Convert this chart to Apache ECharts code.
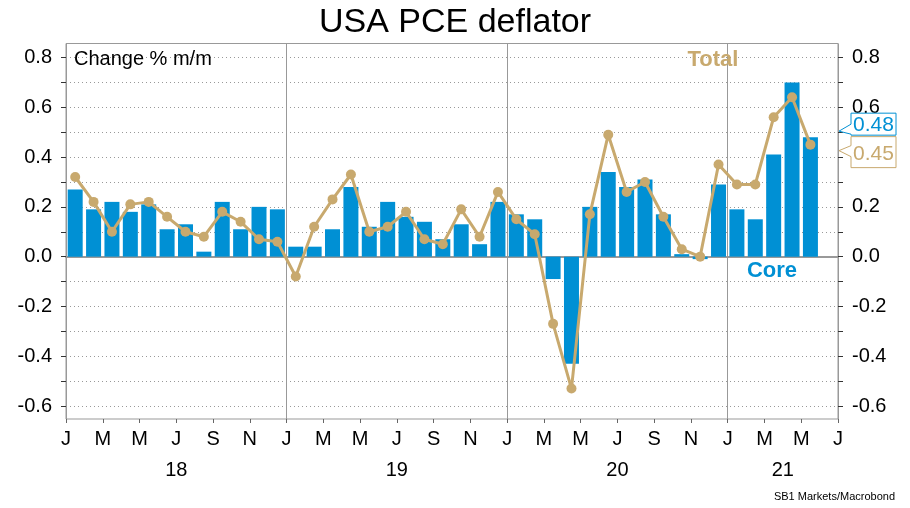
<!DOCTYPE html>
<html>
<head>
<meta charset="utf-8">
<script src="https://cdn.jsdelivr.net/npm/echarts@6/dist/echarts.min.js"></script>
<style>
  html, body { margin: 0; padding: 0; background: #fff; }
  #chart { width: 910px; height: 508px; }
</style>
</head>
<body>
<div id="chart"></div>
<script>
// months Jan 2018 .. Jun 2021 (last slot empty)
const months = [
  '2018-01','2018-02','2018-03','2018-04','2018-05','2018-06','2018-07','2018-08','2018-09','2018-10','2018-11','2018-12',
  '2019-01','2019-02','2019-03','2019-04','2019-05','2019-06','2019-07','2019-08','2019-09','2019-10','2019-11','2019-12',
  '2020-01','2020-02','2020-03','2020-04','2020-05','2020-06','2020-07','2020-08','2020-09','2020-10','2020-11','2020-12',
  '2021-01','2021-02','2021-03','2021-04','2021-05','2021-06'
]
// core PCE, % m/m (bars)
const core = [
  0.27, 0.19, 0.22, 0.18, 0.21, 0.11, 0.13, 0.02, 0.22, 0.11, 0.20, 0.19,
  0.04, 0.04, 0.11, 0.28, 0.12, 0.22, 0.16, 0.14, 0.07, 0.13, 0.05, 0.22,
  0.17, 0.15, -0.09, -0.43, 0.20, 0.34, 0.28, 0.31, 0.17, 0.01, -0.01, 0.29,
  0.19, 0.15, 0.41, 0.70, 0.48
]
// total PCE, % m/m (line)
const total = [
  0.32, 0.22, 0.10, 0.21, 0.22, 0.16, 0.10, 0.08, 0.18, 0.14, 0.07, 0.06,
  -0.08, 0.12, 0.23, 0.33, 0.10, 0.12, 0.18, 0.07, 0.05, 0.19, 0.08, 0.26,
  0.15, 0.09, -0.27, -0.53, 0.17, 0.49, 0.26, 0.30, 0.16, 0.03, 0.00, 0.37,
  0.29, 0.29, 0.56, 0.64, 0.45
]
const monthLetters = ['J', 'M', 'M', 'J', 'S', 'N'] // every 2nd month
const yearLabels = ['18', '19', '20', '21']

const BLUE = '#0090D4'
const GOLD = '#C8A96E'
const FONT = 'Liberation Sans, Arial, sans-serif'

const chart = echarts.init(document.getElementById('chart'))

const yCommon = {
  type: 'value',
  gridIndex: 0,
  min: -0.6,
  max: 0.8,
  interval: 0.1,
  axisLine: { show: false },
  axisTick: { show: true, inside: false, length: 5, lineStyle: { color: '#333' } },
  axisLabel: {
    margin: 14,
    color: '#000',
    fontSize: 20,
    fontFamily: FONT,
    formatter: function(v) {
      return Math.round(v * 10) % 2 === 0 ? v.toFixed(1) : ''
    }
  }
}

chart.setOption({
  animation: false,
  title: {
    text: 'USA PCE deflator',
    left: 'center',
    top: 1,
    textStyle: { fontSize: 34, fontWeight: 'normal', color: '#000', fontFamily: FONT }
  },
  grid: [
    { left: 66, right: 72, top: 57.5, bottom: 102 }, // data area, -0.6 .. 0.8
    { left: 66, right: 72, top: 43.5, bottom: 89, show: true, borderColor: '#999', borderWidth: 1, backgroundColor: 'transparent' } // frame
  ],
  xAxis: [
    {
      type: 'category',
      gridIndex: 0,
      data: months,
      boundaryGap: true,
      axisLine: { show: true, onZero: true, lineStyle: { color: '#999', width: 2 } },
      axisTick: { show: false },
      axisLabel: { show: false },
      splitLine: { show: false }
    },
    { // month letters
      type: 'value',
      gridIndex: 1,
      min: 0,
      max: months.length,
      interval: 2,
      position: 'bottom',
      offset: 0,
      axisLine: { show: false },
      axisTick: { show: true, length: 4, lineStyle: { color: '#666' } },
      splitLine: { show: false },
      axisLabel: {
        margin: 10,
        color: '#000',
        fontSize: 20,
        fontFamily: FONT,
        formatter: function(v) { return monthLetters[(v % 12) / 2] }
      }
    },
    { // year separators
      type: 'value',
      gridIndex: 1,
      min: 0,
      max: months.length,
      interval: 12,
      position: 'bottom',
      offset: 0,
      axisLine: { show: false },
      axisTick: { show: false },
      axisLabel: { show: false },
      splitLine: { show: true, lineStyle: { color: '#999', width: 1 } }
    },
    { // year labels, centred on each year
      type: 'value',
      gridIndex: 1,
      min: 0,
      max: months.length,
      interval: 3,
      position: 'bottom',
      offset: 0,
      axisLine: { show: false },
      axisTick: { show: false },
      splitLine: { show: false },
      axisLabel: {
        margin: 41,
        color: '#000',
        fontSize: 20,
        fontFamily: FONT,
        formatter: function(v) {
          const y = Math.floor(v / 12)
          const end = Math.min(y * 12 + 12, months.length)
          return v === (y * 12 + end) / 2 && yearLabels[y] ? yearLabels[y] : ''
        }
      }
    }
  ],
  yAxis: [
    Object.assign({}, yCommon, {
      position: 'left',
      splitLine: { show: true, lineStyle: { color: '#999', type: [1, 3], width: 1 } }
    }),
    Object.assign({}, yCommon, {
      position: 'right',
      splitLine: { show: false }
    }),
    { type: 'value', gridIndex: 1, min: 0, max: 1, show: false }
  ],
  series: [
    {
      name: 'Core',
      type: 'bar',
      xAxisIndex: 0,
      yAxisIndex: 0,
      data: core,
      barWidth: 15,
      itemStyle: { color: BLUE },
      z: 2
    },
    {
      name: 'Total',
      type: 'line',
      xAxisIndex: 0,
      yAxisIndex: 0,
      data: total,
      symbol: 'circle',
      symbolSize: 10,
      lineStyle: { color: GOLD, width: 3 },
      itemStyle: { color: GOLD },
      z: 3
    }
  ]
})

// texts and end-value tags, placed through the chart's own scales
const xRight = chart.convertToPixel({ xAxisIndex: 1 }, months.length)
const lastCore = core[core.length - 1]
const lastTotal = total[total.length - 1]
const tipBlue = chart.convertToPixel({ yAxisIndex: 0 }, lastCore) - 6
const tipGold = chart.convertToPixel({ yAxisIndex: 0 }, lastTotal) + 6
const bx = xRight + 13
const bw = 45

function tag(tip, top, bottom, n1, n2, color, label, textY) {
  return [
    {
      type: 'polygon',
      shape: { points: [
        [bx, tip + top], [bx + bw, tip + top], [bx + bw, tip + bottom], [bx, tip + bottom],
        [bx, tip + n2], [xRight + 1, tip], [bx, tip + n1]
      ] },
      style: { fill: '#fff', stroke: color, lineWidth: 1 },
      z: 10
    },
    {
      type: 'text',
      x: bx + bw / 2,
      y: tip + textY,
      style: { text: label, fill: color, font: '21px ' + FONT, align: 'center', verticalAlign: 'middle' },
      z: 11
    }
  ]
}

chart.setOption({
  graphic: [
    {
      type: 'text', left: 74, top: 49,
      style: { text: 'Change % m/m', fill: '#000', font: '20px ' + FONT }
    },
    {
      type: 'text', x: 713, y: 60,
      style: { text: 'Total', fill: GOLD, font: 'bold 22px ' + FONT, align: 'center', verticalAlign: 'middle' }
    },
    {
      type: 'text', x: 772, y: 271,
      style: { text: 'Core', fill: BLUE, font: 'bold 22px ' + FONT, align: 'center', verticalAlign: 'middle' }
    },
    {
      type: 'text', right: 15, top: 491,
      style: { text: 'SB1 Markets/Macrobond', fill: '#000', font: '11px ' + FONT }
    }
  ].concat(
    tag(tipBlue, -18, 4, -7, 3, BLUE, lastCore.toFixed(2), -6),
    tag(tipGold, -14, 17, -5, 6, GOLD, lastTotal.toFixed(2), 4)
  )
})
</script>
</body>
</html>
